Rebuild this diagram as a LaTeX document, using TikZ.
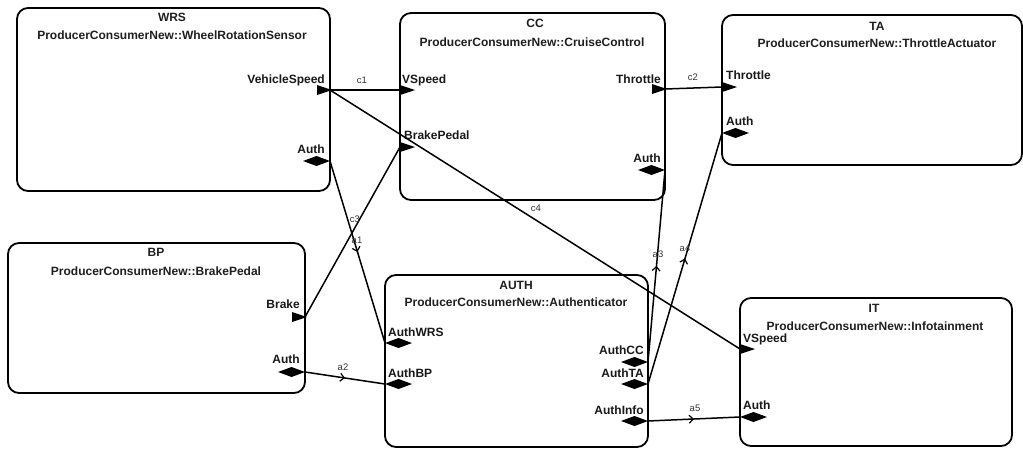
\documentclass[tikz,border=0pt]{standalone}
\usepackage{fontspec}
\setmainfont{Liberation Sans}
\usetikzlibrary{arrows.meta,decorations.markings}
\begin{document}
\begin{tikzpicture}[x=1pt,y=-1pt,
  box/.style={draw,line width=1.8pt,rounded corners=11pt,inner sep=0pt},
  ttl/.style={font=\bfseries\fontsize{12}{14}\selectfont,inner sep=0pt,text=black!88},
  plab/.style={font=\bfseries\fontsize{12}{14}\selectfont,inner sep=0pt,text=black!90},
  clab/.style={font=\fontsize{9.5}{11}\selectfont,inner sep=0pt,text=black!80},
  conn/.style={line width=1.5pt},
  flow/.style={conn,postaction={decorate},decoration={markings,mark=at position 0.5 with {\arrow{Straight Barb[length=4pt,width=8pt,line width=1.2pt]}}}},
  pics/outport/.style={code={\fill (-13,-5) -- (2,0) -- (-13,5) -- cycle;}},
  pics/inport/.style={code={\fill (0,-5) -- (15,0) -- (0,5) -- cycle;}},
  pics/rdiam/.style={code={\fill (-27,0) -- (-13.5,-5) -- (0,0) -- (-13.5,5) -- cycle;}},
  pics/ldiam/.style={code={\fill (0,0) -- (13.5,-5) -- (27,0) -- (13.5,5) -- cycle;}}
]
\useasboundingbox (0,0) rectangle (1023,448);
\fill[white] (0,0) rectangle (1023,448);

% boxes
\node[box,minimum width=313pt,minimum height=183pt] (wrs) at (173.5,99.5) {};
\node[box,minimum width=265pt,minimum height=187pt] (cc) at (532.5,106.5) {};
\node[box,minimum width=300pt,minimum height=150pt] (ta) at (872,90) {};
\node[box,minimum width=297pt,minimum height=150pt] (bp) at (156.5,318) {};
\node[box,minimum width=263pt,minimum height=172pt] (auth) at (516.5,361) {};
\node[box,minimum width=272pt,minimum height=148pt] (it) at (876,372) {};

% titles
\node[ttl,anchor=base] (wrsT) at (172,21.5) {WRS};
\node[ttl,anchor=base] (wrsS) at (172,39.5) {ProducerConsumerNew::WheelRotationSensor};
\node[ttl,anchor=base] (ccT) at (535,27.5) {CC};
\node[ttl,anchor=base] (ccS) at (532,46) {ProducerConsumerNew::CruiseControl};
\node[ttl,anchor=base] (taT) at (877,30) {TA};
\node[ttl,anchor=base] (taS) at (877,47) {ProducerConsumerNew::ThrottleActuator};
\node[ttl,anchor=base] (bpT) at (156,256.5) {BP};
\node[ttl,anchor=base] (bpS) at (156,275) {ProducerConsumerNew::BrakePedal};
\node[ttl,anchor=base] (authT) at (516,289) {AUTH};
\node[ttl,anchor=base] (authS) at (516,306) {ProducerConsumerNew::Authenticator};
\node[ttl,anchor=base] (itT) at (874,312.5) {IT};
\node[ttl,anchor=base] (itS) at (875,330.5) {ProducerConsumerNew::Infotainment};

% port labels
\node[plab,anchor=base east] (lWrsVS) at (325,83) {VehicleSpeed};
\node[plab,anchor=base east] (lWrsAuth) at (325,153) {Auth};
\node[plab,anchor=base west] (lCcVS) at (402,83) {VSpeed};
\node[plab,anchor=base west] (lCcBP) at (404,139) {BrakePedal};
\node[plab,anchor=base east] (lCcThr) at (661,83) {Throttle};
\node[plab,anchor=base east] (lCcAuth) at (661,162) {Auth};
\node[plab,anchor=base west] (lTaThr) at (726,79.5) {Throttle};
\node[plab,anchor=base west] (lTaAuth) at (726,125.5) {Auth};
\node[plab,anchor=base east] (lBpBrake) at (300,308.5) {Brake};
\node[plab,anchor=base east] (lBpAuth) at (300,363.5) {Auth};
\node[plab,anchor=base west] (lAuWRS) at (388,336) {AuthWRS};
\node[plab,anchor=base west] (lAuBP) at (388,377.5) {AuthBP};
\node[plab,anchor=base east] (lAuCC) at (644,354.5) {AuthCC};
\node[plab,anchor=base east] (lAuTA) at (644,377) {AuthTA};
\node[plab,anchor=base east] (lAuInfo) at (644,414) {AuthInfo};
\node[plab,anchor=base west] (lItVS) at (743,342.5) {VSpeed};
\node[plab,anchor=base west] (lItAuth) at (743,409.5) {Auth};

% port attach points
\coordinate (wrsVS) at (330,90);
\coordinate (wrsAuth) at (330,161);
\coordinate (ccVS) at (400,90);
\coordinate (ccBP) at (400,147);
\coordinate (ccThr) at (665,89);
\coordinate (ccAuth) at (665,170);
\coordinate (taThr) at (722,87);
\coordinate (taAuth) at (722,133);
\coordinate (bpBrake) at (305,317);
\coordinate (bpAuth) at (305,372);
\coordinate (auWRS) at (385,343);
\coordinate (auBP) at (385,384);
\coordinate (auCC) at (648,362);
\coordinate (auTA) at (648,384);
\coordinate (auInfo) at (648,421);
\coordinate (itVS) at (740,349);
\coordinate (itAuth) at (740,417);

% connectors
\draw[conn] (wrsVS) -- (ccVS);
\draw[conn] (ccThr) -- (taThr);
\draw[conn] (bpBrake) -- (ccBP);
\draw[conn] (wrsVS) -- (itVS);
\draw[flow] (wrsAuth) -- (auWRS);
\draw[flow] (bpAuth) -- (auBP);
\draw[flow] (auCC) -- (ccAuth);
\draw[flow] (auTA) -- (taAuth);
\draw[flow] (auInfo) -- (itAuth);

% connector labels
\node[clab] (lc1) at (362,80) {c1};
\node[clab] (lc2) at (693,77) {c2};
\node[clab] (lc3) at (355,219) {c3};
\node[clab] (lc4) at (536,208) {c4};
\node[clab] (la1) at (357,240) {a1};
\node[clab] (la2) at (343,367) {a2};
\node[clab] (la3) at (658,254) {a3};
\node[clab] (la4) at (685,248) {a4};
\node[clab] (la5) at (695,408) {a5};

% port glyphs
\pic at (wrsVS) {outport};
\pic at (wrsAuth) {rdiam};
\pic at (ccVS) {inport};
\pic at (ccBP) {inport};
\pic at (ccThr) {outport};
\pic at (ccAuth) {rdiam};
\pic at (taThr) {inport};
\pic at (taAuth) {ldiam};
\pic at (bpBrake) {outport};
\pic at (bpAuth) {rdiam};
\pic at (auWRS) {ldiam};
\pic at (auBP) {ldiam};
\pic at (auCC) {rdiam};
\pic at (auTA) {rdiam};
\pic at (auInfo) {rdiam};
\pic at (itVS) {inport};
\pic at (itAuth) {ldiam};
\end{tikzpicture}
\end{document}
